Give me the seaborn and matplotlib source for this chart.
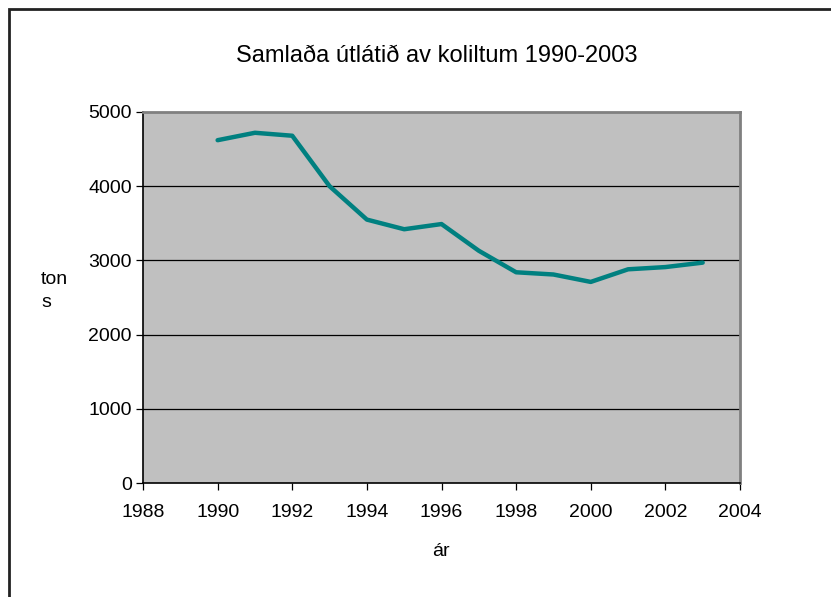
import numpy as np
import pandas as pd
import seaborn as sns
import matplotlib.pyplot as plt
from matplotlib.patches import Rectangle

# data
years = [1990, 1991, 1992, 1993, 1994, 1995, 1996, 1997, 1998, 1999, 2000, 2001, 2002, 2003]
tons = [4620, 4720, 4680, 4000, 3550, 3420, 3490, 3130, 2840, 2810, 2710, 2880, 2910, 2970]
x_ticks = [1988, 1990, 1992, 1994, 1996, 1998, 2000, 2002, 2004]
y_ticks = [0, 1000, 2000, 3000, 4000, 5000]

df = pd.DataFrame({"year": years, "tons": tons})

sns.set_style("white")
plt.rcParams['font.family'] = ['Liberation Sans', 'DejaVu Sans']
plt.rcParams['text.color'] = 'black'
plt.rcParams['xtick.color'] = 'black'
plt.rcParams['ytick.color'] = 'black'

fig = plt.figure(figsize=(8.31, 5.97), dpi=100)
ax = fig.add_axes([143/831, 1 - 483/597, (740 - 143)/831, (483 - 112)/597])
ax.set_facecolor("#c0c0c0")

# grid lines
for v in y_ticks[1:-1]:
    ax.axhline(v, color="black", lw=0.9, zorder=1)

sns.lineplot(data=df, x="year", y="tons", ax=ax, color="#008080", lw=3.2, zorder=3)

ax.set_xlim(1988, 2004)
ax.set_ylim(0, 5000)
ax.set_xticks(x_ticks)
ax.set_yticks(y_ticks)
ax.tick_params(axis="both", direction="out", length=5, width=0.9, color="black",
               labelsize=14, pad=3, left=True, bottom=True, labelcolor="black")
ax.tick_params(axis="x", pad=10)

for s in ["left", "bottom"]:
    ax.spines[s].set_color("black")
    ax.spines[s].set_linewidth(1.2)
for s in ["top", "right"]:
    ax.spines[s].set_color("#808080")
    ax.spines[s].set_linewidth(2)

ax.set_xlabel("")
ax.set_ylabel("")
fig.text(441/831, 1 - 552/597, "ár", ha="center", va="center", fontsize=14)
fig.text(41/831, 1 - 291/597, "ton\ns", ha="left", va="center", fontsize=14, linespacing=1.45)
fig.text(437/831, 1 - 56/597, "Samlaða útlátið av koliltum 1990-2003", ha="center", va="center",
         fontsize=17)

# outer chart border
fig.patches.append(Rectangle((9/831, -0.01), 1.0, 1 - 9/597 + 0.01, transform=fig.transFigure,
                             fill=False, edgecolor="#222222", lw=2))

fig.savefig("out.png", dpi=100)
